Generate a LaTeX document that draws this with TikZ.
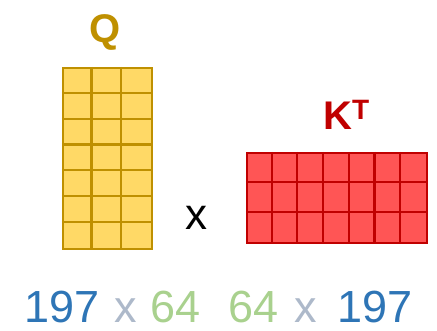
\documentclass[tikz,border=0pt]{standalone}
\usepackage{fontspec}
\setmainfont{Liberation Sans}
\usetikzlibrary{calc}
\begin{document}
\begin{tikzpicture}[x=1pt,y=-1pt,
  qgrid/.style={draw=qline,line width=2.2pt,fill=qfill},
  kgrid/.style={draw=kline,line width=2.2pt,fill=kfill},
  bigtxt/.style={font=\fontsize{45}{50}\selectfont,inner sep=0pt,anchor=base west}]
\definecolor{qfill}{HTML}{FFD966}
\definecolor{qline}{HTML}{BF9000}
\definecolor{kfill}{HTML}{FF5555}
\definecolor{kline}{HTML}{C00000}
\definecolor{nblue}{HTML}{2E75B6}
\definecolor{ngreen}{HTML}{A9D18E}
\definecolor{ngray}{HTML}{ADB9CA}
\useasboundingbox (0,0) rectangle (437,330);
% Q matrix
\node[qgrid,minimum width=89pt,minimum height=181pt,inner sep=0pt] (Q) at (107.5,158.5) {};
\foreach \i in {1,2} \draw[qline,line width=2.2pt] ($(Q.north west)+(\i*89/3,0)$) -- ($(Q.south west)+(\i*89/3,0)$);
\foreach \j in {1,...,6} \draw[qline,line width=2.2pt] ($(Q.north west)+(0,\j*181/7)$) -- ($(Q.north east)+(0,\j*181/7)$);
\node[text=qline,font=\fontsize{40}{44}\selectfont\bfseries,inner sep=0pt,anchor=base] (Qlab) at (105,42) {Q};
% K^T matrix
\node[kgrid,minimum width=180pt,minimum height=90pt,inner sep=0pt] (K) at (337,198) {};
\foreach \i in {1,...,6} \draw[kline,line width=2.2pt] ($(K.north west)+(\i*180/7,0)$) -- ($(K.south west)+(\i*180/7,0)$);
\foreach \j in {1,2} \draw[kline,line width=2.2pt] ($(K.north west)+(0,\j*30)$) -- ($(K.north east)+(0,\j*30)$);
\node[text=kline,font=\fontsize{40}{44}\selectfont\bfseries,inner sep=0pt,anchor=base west] (Klab) at (323,129) {K\textsuperscript{T}};
% times
\node[font=\fontsize{44}{48}\selectfont,inner sep=0pt,anchor=base] (times) at (196.5,229) {x};
% dimensions
\node[bigtxt,text=nblue] (d1) at (24,322) {197};
\node[bigtxt,text=ngray] (x1) at (114,322) {x};
\node[bigtxt,text=ngreen] (d2) at (150,322) {64};
\node[bigtxt,text=ngreen] (d3) at (228,322) {64};
\node[bigtxt,text=ngray] (x2) at (294,322) {x};
\node[bigtxt,text=nblue] (d4) at (337,322) {197};
\end{tikzpicture}
\end{document}
